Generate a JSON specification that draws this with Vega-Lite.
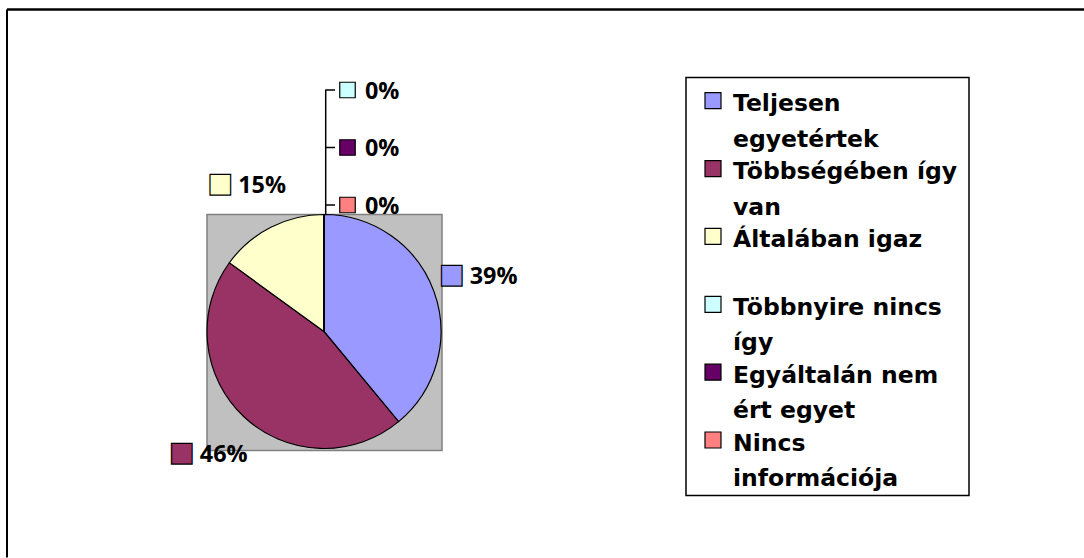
{
  "$schema": "https://vega.github.io/schema/vega-lite/v6.json",
  "width": 1077,
  "height": 548,
  "autosize": {"type": "none"},
  "padding": {"left": 7, "top": 9.5, "right": 0, "bottom": 0},
  "background": "white",
  "config": {"view": {"stroke": null}, "font": "Open Sans"},
  "datasets": {
    "pie": [
      {"category": "Teljesen egyetértek", "label": "Teljesen\negyetértek", "value": 0.39, "order": 1},
      {"category": "Többségében így van", "label": "Többségében így\nvan", "value": 0.46, "order": 2},
      {"category": "Általában igaz", "label": "Általában igaz", "value": 0.15, "order": 3},
      {"category": "Többnyire nincs így", "label": "Többnyire nincs\nígy", "value": 0, "order": 4},
      {"category": "Egyáltalán nem ért egyet", "label": "Egyáltalán nem\nért egyet", "value": 0, "order": 5},
      {"category": "Nincs információja", "label": "Nincs\ninformációja", "value": 0, "order": 6}
    ]
  },
  "data": {"name": "pie"},
  "resolve": {"scale": {"y": "independent"}},
  "layer": [
    {
      "data": {"values": [{}]},
      "mark": {"type": "rule", "color": "black", "strokeWidth": 2.5},
      "encoding": {"x": {"value": 0}, "x2": {"value": 1077}, "y": {"value": 0}}
    },
    {
      "data": {"values": [{}]},
      "mark": {"type": "rule", "color": "black", "strokeWidth": 2},
      "encoding": {"x": {"value": 0}, "y": {"value": 0}, "y2": {"value": 548}}
    },
    {
      "data": {"values": [{}]},
      "mark": {"type": "rect", "fill": "#C0C0C0", "stroke": "#808080", "strokeWidth": 1.5},
      "encoding": {"x": {"value": 200}, "x2": {"value": 435}, "y": {"value": 205}, "y2": {"value": 441}}
    },
    {
      "data": {"values": [{}]},
      "mark": {"type": "rule", "color": "black", "strokeWidth": 1.5},
      "encoding": {"x": {"value": 318.7}, "y": {"value": 80}, "y2": {"value": 205}}
    },
    {
      "mark": {"type": "arc", "radius": 117, "stroke": "black", "strokeWidth": 1.2},
      "encoding": {
        "theta": {"field": "value", "type": "quantitative", "stack": true},
        "order": {"field": "order", "type": "quantitative"},
        "color": {
          "field": "category",
          "type": "nominal",
          "scale": {
            "domain": ["Teljesen egyetértek", "Többségében így van", "Általában igaz", "Többnyire nincs így", "Egyáltalán nem ért egyet", "Nincs információja"],
            "range": ["#9999FF", "#993366", "#FFFFCC", "#CCFFFF", "#660066", "#FF8080"]
          },
          "legend": null
        },
        "x": {"value": 317},
        "y": {"value": 322}
      }
    },
    {
      "transform": [{"filter": "datum.value > 0"}],
      "mark": {"type": "text", "text": "■", "font": "DejaVu Sans", "fontSize": 27, "align": "center", "baseline": "middle", "stroke": "black", "strokeWidth": 1.2, "dx": -28.5, "radius": 166},
      "encoding": {
        "theta": {"field": "value", "type": "quantitative", "stack": true},
        "order": {"field": "order", "type": "quantitative"},
        "color": {"field": "category", "type": "nominal"},
        "x": {"value": 317},
        "y": {"value": 322}
      }
    },
    {
      "transform": [{"filter": "datum.value > 0"}],
      "mark": {"type": "text", "font": "Open Sans", "fontSize": 23.4, "fontWeight": "bold", "align": "left", "baseline": "alphabetic", "color": "black", "dx": -10.5, "dy": 9, "radius": 166},
      "encoding": {
        "theta": {"field": "value", "type": "quantitative", "stack": true},
        "order": {"field": "order", "type": "quantitative"},
        "text": {"field": "value", "type": "quantitative", "format": ".0%"},
        "x": {"value": 317},
        "y": {"value": 322}
      }
    },
    {
      "transform": [{"filter": "datum.value == 0"}],
      "encoding": {
        "y": {
          "field": "category",
          "type": "nominal",
          "scale": {"type": "point", "domain": ["Többnyire nincs így", "Egyáltalán nem ért egyet", "Nincs információja"], "range": [80.5, 195.5], "padding": 0},
          "axis": null
        }
      },
      "layer": [
        {
          "mark": {"type": "rule", "color": "black", "strokeWidth": 1.5},
          "encoding": {"x": {"value": 318.7}, "x2": {"value": 328}}
        },
        {
          "mark": {"type": "point", "shape": "square", "filled": true, "size": 240, "stroke": "black", "strokeWidth": 1.2, "opacity": 1},
          "encoding": {"x": {"value": 340.5}, "color": {"field": "category", "type": "nominal"}}
        },
        {
          "mark": {"type": "text", "font": "Open Sans", "fontSize": 23.4, "fontWeight": "bold", "align": "left", "baseline": "alphabetic", "color": "black", "dy": 8.5},
          "encoding": {"x": {"value": 358}, "text": {"field": "value", "type": "quantitative", "format": ".0%"}}
        }
      ]
    },
    {
      "data": {"values": [{}]},
      "mark": {"type": "rect", "fill": "white", "stroke": "black", "strokeWidth": 1.5},
      "encoding": {"x": {"value": 679}, "x2": {"value": 962}, "y": {"value": 68}, "y2": {"value": 486}}
    },
    {
      "encoding": {
        "y": {
          "field": "category",
          "type": "nominal",
          "scale": {
            "type": "point",
            "domain": ["Teljesen egyetértek", "Többségében így van", "Általában igaz", "Többnyire nincs így", "Egyáltalán nem ért egyet", "Nincs információja"],
            "range": [101.7, 441],
            "padding": 0
          },
          "axis": null
        }
      },
      "layer": [
        {
          "mark": {"type": "point", "shape": "square", "filled": true, "size": 256, "stroke": "black", "strokeWidth": 1.2, "opacity": 1, "yOffset": -10.5},
          "encoding": {"x": {"value": 706}, "color": {"field": "category", "type": "nominal"}}
        },
        {
          "mark": {"type": "text", "font": "DejaVu Sans", "fontSize": 23.5, "fontWeight": "bold", "align": "left", "baseline": "alphabetic", "color": "black", "lineBreak": "\n", "lineHeight": 35.5},
          "encoding": {"x": {"value": 726}, "text": {"field": "label", "type": "nominal"}}
        }
      ]
    }
  ]
}
